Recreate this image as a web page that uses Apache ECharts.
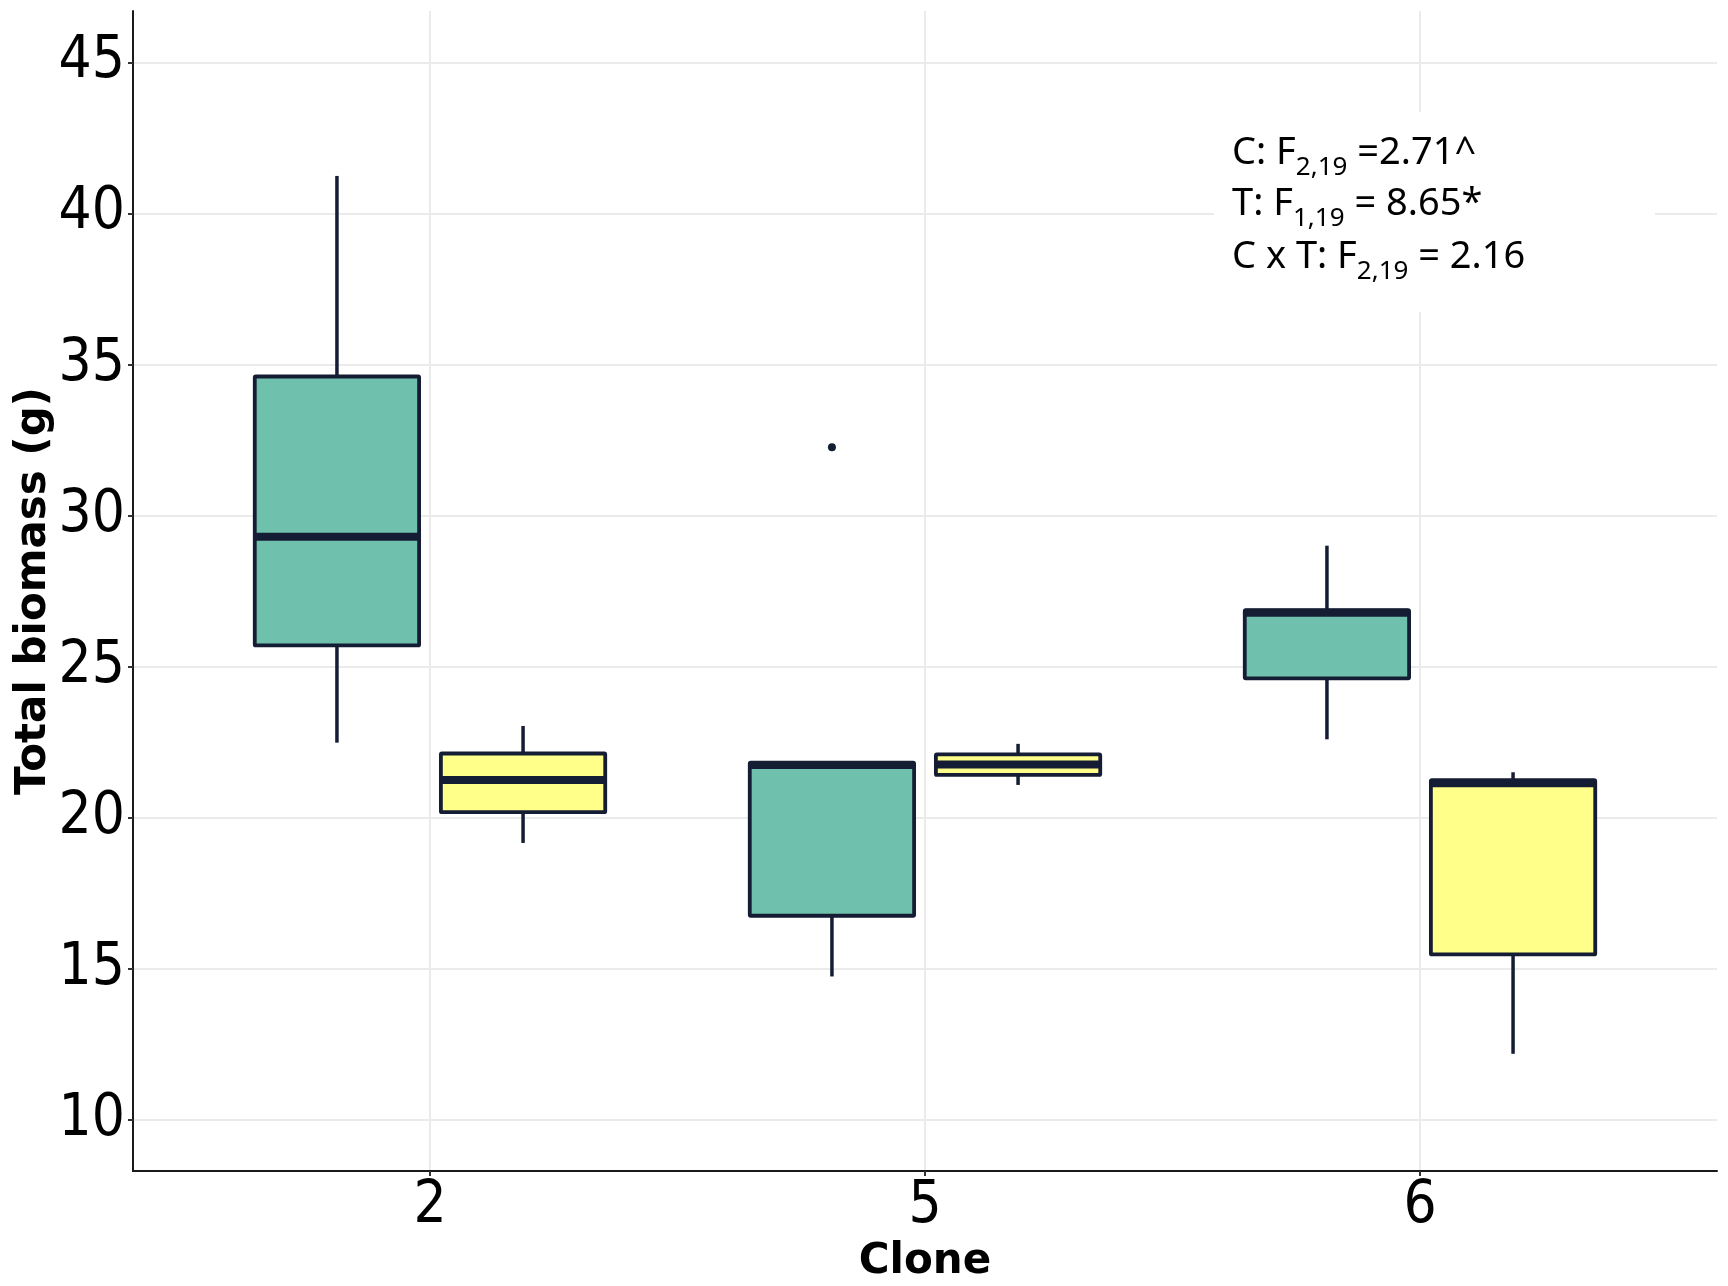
<!DOCTYPE html>
<html>
<head>
<meta charset="utf-8">
<script src="https://cdn.jsdelivr.net/npm/echarts@6/dist/echarts.min.js"></script>
<style>
  html, body { margin: 0; padding: 0; background: #fff; }
  #chart { width: 1728px; height: 1286px; }
</style>
</head>
<body>
<div id="chart"></div>
<script>
// clones on the x axis
var clones = ['2', '5', '6'];
// box stats per clone: [lower whisker, Q1, median, Q3, upper whisker]
var tealStats = [
  [22.48, 25.70, 29.30, 34.60, 41.24],
  [14.74, 16.75, 21.74, 21.82, 21.82],
  [22.59, 24.61, 26.78, 26.87, 29.00]
];
var yellowStats = [
  [19.16, 20.18, 21.24, 22.12, 23.03],
  [21.08, 21.41, 21.76, 22.09, 22.44],
  [12.18, 15.47, 21.14, 21.24, 21.50]
];
// outliers: [clone index, group (0 teal / 1 yellow), value]
var outliers = [[1, 0, 32.26]];
var yMin = 8.3, yMax = 46.7;

var INK = '#141d33';
var TEAL = '#6fc1ae';
var YELLOW = '#ffff8a';
var GRID = '#ebebeb';
var TICK_FONT = '"DejaVu Sans Condensed", "Liberation Sans Narrow", "Noto Sans", sans-serif';
var TITLE_FONT = { fontFamily: '"DejaVu Sans", sans-serif', fontWeight: 'bold', fontSize: 42, color: '#000' };
var SHIFT = 0.188, HALF = 0.166;

function boxRenderer(shift, fill) {
  return function (params, api) {
    var i = api.value(0);
    var band = api.size([1, 0])[0];
    var cx = api.coord([i, 0])[0] + shift * band;
    var half = HALF * band;
    function y(k) { return api.coord([i, api.value(k)])[1]; }
    var lo = y(1), q1 = y(2), med = y(3), q3 = y(4), hi = y(5);
    var ls = { stroke: INK, lineWidth: 3.5 };
    return {
      type: 'group',
      children: [
        { type: 'line', shape: { x1: cx, y1: hi, x2: cx, y2: q3 }, style: ls },
        { type: 'line', shape: { x1: cx, y1: q1, x2: cx, y2: lo }, style: ls },
        { type: 'rect', shape: { x: cx - half, y: q3, width: 2 * half, height: q1 - q3, r: 1 },
          style: { fill: fill, stroke: INK, lineWidth: 3.8 } },
        { type: 'line', shape: { x1: cx - half + 1, y1: med, x2: cx + half - 1, y2: med },
          style: { stroke: INK, lineWidth: 8 } }
      ]
    };
  };
}

function withIndex(stats) {
  return stats.map(function (s, i) { return [i].concat(s); });
}

var chart = echarts.init(document.getElementById('chart'));

var mainFont = { fontFamily: '"Noto Sans", sans-serif', fontSize: 38, color: '#000', lineHeight: 44, verticalAlign: 'top' };
var subFont = { fontFamily: '"Noto Sans", sans-serif', fontSize: 26, color: '#000', lineHeight: 67 };
var rich = { m: mainFont, s: subFont };
function statLine(top, text) {
  return { type: 'text', left: 1232, top: top, z: 11, style: { text: text, rich: rich } };
}

chart.setOption({
  animation: false,
  backgroundColor: '#fff',
  grid: [
    { left: 133, right: 11, top: 11, bottom: 115, outerBoundsMode: 'none', containLabel: false },
    { left: 430, right: 308, top: 11, bottom: 115, outerBoundsMode: 'none', containLabel: false }
  ],
  xAxis: [
    {
      gridIndex: 0, type: 'value', min: 0.4, max: 3.6,
      axisLine: { show: true, lineStyle: { color: '#1a1a1a', width: 2 } },
      axisTick: { show: false }, axisLabel: { show: false }, splitLine: { show: false },
      name: 'Clone', nameLocation: 'middle', nameGap: 70, nameTextStyle: TITLE_FONT
    },
    {
      gridIndex: 1, type: 'category', data: clones, boundaryGap: false,
      axisLine: { show: false },
      axisTick: { show: true, length: 5, lineStyle: { color: '#333', width: 2 } },
      axisLabel: { fontFamily: TICK_FONT, fontSize: 58, color: '#000', margin: 7 },
      splitLine: { show: true, lineStyle: { color: GRID, width: 2 } }
    }
  ],
  yAxis: [
    {
      gridIndex: 0, type: 'value', min: yMin, max: yMax, splitNumber: 8,
      axisLine: { show: true, lineStyle: { color: '#1a1a1a', width: 2 } },
      axisTick: { show: true, length: 5, lineStyle: { color: '#333', width: 2 } },
      axisLabel: { fontFamily: TICK_FONT, fontSize: 58, color: '#000', margin: 8,
        showMinLabel: false, showMaxLabel: false },
      splitLine: { show: true, showMinLine: false, showMaxLine: false, lineStyle: { color: GRID, width: 2 } },
      name: 'Total biomass (g)', nameLocation: 'middle', nameGap: 78, nameRotate: 90,
      nameMoveOverlap: false, nameTextStyle: TITLE_FONT
    },
    { gridIndex: 1, type: 'value', min: yMin, max: yMax, show: false, splitLine: { show: false } }
  ],
  series: [
    { type: 'custom', name: 'teal', xAxisIndex: 1, yAxisIndex: 1, data: withIndex(tealStats),
      renderItem: boxRenderer(-SHIFT, TEAL), z: 3 },
    { type: 'custom', name: 'yellow', xAxisIndex: 1, yAxisIndex: 1, data: withIndex(yellowStats),
      renderItem: boxRenderer(SHIFT, YELLOW), z: 3 },
    { type: 'custom', name: 'outliers', xAxisIndex: 1, yAxisIndex: 1, data: outliers, z: 4,
      renderItem: function (params, api) {
        var band = api.size([1, 0])[0];
        var p = api.coord([api.value(0), api.value(2)]);
        var cx = p[0] + (api.value(1) ? SHIFT : -SHIFT) * band;
        return { type: 'circle', shape: { cx: cx, cy: p[1], r: 4 }, style: { fill: INK } };
      } }
  ],
  graphic: [
    { type: 'rect', left: 1214, top: 112, z: 10, shape: { width: 441, height: 200 }, style: { fill: '#fff' } },
    statLine(134, '{m|C: F}{s|2,19}{m| =2.71^}'),
    statLine(185, '{m|T: F}{s|1,19}{m| = 8.65*}'),
    statLine(238, '{m|C x T: F}{s|2,19}{m| = 2.16}')
  ]
});
</script>
</body>
</html>
